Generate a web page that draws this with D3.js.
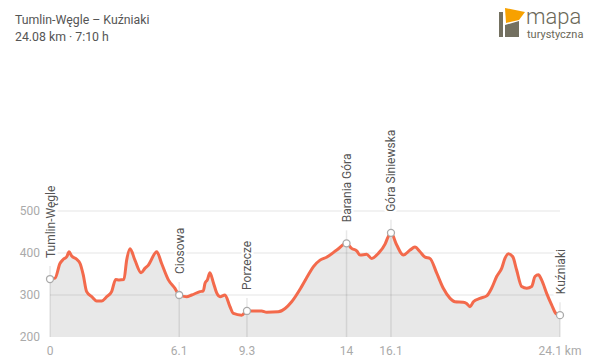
<!DOCTYPE html>
<html>
<head>
<meta charset="utf-8">
<script src="https://cdn.jsdelivr.net/npm/d3@7"></script>
<style>
  body { margin: 0; background: #fff; }
  svg { font-family: Roboto, "Noto Sans", sans-serif; }
</style>
</head>
<body>
<div id="chart"></div>
<script>
// route profile
var distKm = [0, 0.24, 0.47, 0.63, 0.79, 0.90, 1.02, 1.26, 1.42, 1.57, 1.73, 1.97, 2.20, 2.44, 2.68, 2.91,
  3.10, 3.26, 3.49, 3.62, 3.78, 4.01, 4.30, 4.49, 4.64, 5.04, 5.27, 5.59, 5.90, 6.10,
  6.45, 6.69, 7.08, 7.24, 7.32, 7.43, 7.55, 7.71, 7.87, 8.03, 8.26, 8.50, 8.66, 9.05, 9.30,
  9.99, 10.23, 10.78, 11.10, 11.41, 11.88, 12.20, 12.43, 12.75, 13.06, 13.54, 14.00,
  14.24, 14.48, 14.64, 14.95, 15.19, 15.50, 15.82, 15.97, 16.10,
  16.37, 16.68, 17.00, 17.23, 17.47, 17.71, 17.94, 18.26, 18.57, 18.89, 19.12, 19.51, 19.67, 19.83, 19.99,
  20.30, 20.62, 20.85, 21.09, 21.33, 21.48, 21.64, 21.85, 22.03, 22.27, 22.51, 22.74, 22.90, 23.06, 23.21,
  23.45, 23.69, 23.89, 24.08];
var elevM = [338, 340, 375, 385, 391, 403, 393, 385, 375, 348, 308, 296, 286, 286, 296, 308,
  337, 336, 337, 383, 410, 383, 353, 364, 371, 403, 375, 336, 316, 300,
  296, 300, 308, 310, 328, 336, 353, 330, 305, 296, 300, 272, 256, 252, 262,
  262, 259, 260, 268, 284, 320, 348, 367, 383, 390, 407, 423,
  411, 405, 395, 397, 387, 399, 421, 439, 448,
  419, 395, 407, 414, 403, 390, 387, 352, 316, 292, 284, 283, 280, 272, 284,
  292, 298, 316, 344, 364, 387, 398, 391, 360, 320, 316, 320, 344, 348, 336,
  304, 276, 256, 252];

var wpNames = ["Tumlin-Węgle", "Ciosowa", "Porzecze", "Barania Góra", "Góra Siniewska", "Kuźniaki"];
var wpKm = [0, 6.1, 9.3, 14, 16.1, 24.08];
var wpElev = [338, 300, 262, 423, 448, 252];
var xTickLabels = ["0", "6.1", "9.3", "14", "16.1", "24.1 km"];
var yTicks = [200, 300, 400, 500];

var svg = d3.select("#chart").append("svg").attr("width", 600).attr("height", 362);

var x = d3.scaleLinear().domain([0, 24.08]).range([50, 560]);
var y = d3.scaleLinear().domain([200, 500]).range([337, 211]);

var pts = distKm.map(function(d, i) { return [d, elevM[i]]; });

// header
svg.append("text").attr("x", 15).attr("y", 24).attr("font-size", 12.3).attr("fill", "#555")
  .text("Tumlin-Węgle – Kuźniaki");
svg.append("text").attr("x", 15).attr("y", 41).attr("font-size", 12.3).attr("fill", "#555")
  .text("24.08 km · 7:10 h");

// logo
var logo = svg.append("g");
logo.append("rect").attr("x", 499).attr("y", 12).attr("width", 4).attr("height", 25).attr("fill", "#737060");
logo.append("polygon").attr("points", "505,25 519,21 519,37 505,37").attr("fill", "#737060");
logo.append("polygon").attr("points", "505,8 525,12 519,20 506,23").attr("fill", "#f7a100");
logo.append("text").attr("x", 526).attr("y", 24).attr("font-size", 22).attr("font-weight", 300)
  .attr("fill", "#6b6858").text("mapa");
logo.append("text").attr("x", 527).attr("y", 38).attr("font-size", 11)
  .attr("fill", "#6b6858").text("turystyczna");

// area + line
svg.append("path").datum(pts)
  .attr("fill", "#e8e8e8")
  .attr("d", d3.area().x(function(d) { return x(d[0]); }).y0(y(200)).y1(function(d) { return y(d[1]); })
    .curve(d3.curveMonotoneX));

// grid
svg.selectAll(".grid").data(yTicks.slice(1)).enter().append("line")
  .attr("x1", 50).attr("x2", 560)
  .attr("y1", function(d) { return y(d); }).attr("y2", function(d) { return y(d); })
  .attr("stroke", "rgba(0,0,0,0.07)").attr("stroke-width", 1.5);

svg.selectAll(".ylab").data(yTicks).enter().append("text")
  .attr("x", 40).attr("y", function(d) { return y(d); }).attr("dy", "0.35em")
  .attr("text-anchor", "end").attr("font-size", 12).attr("fill", "#aaa")
  .text(function(d) { return d; });

svg.selectAll(".xlab").data(wpKm).enter().append("text")
  .attr("x", function(d) { return x(d); }).attr("y", 355)
  .attr("text-anchor", "middle").attr("font-size", 12).attr("fill", "#aaa")
  .text(function(d, i) { return xTickLabels[i]; });

// waypoint stems
svg.selectAll(".stem").data(wpKm).enter().append("line")
  .attr("x1", function(d) { return x(d); }).attr("x2", function(d) { return x(d); })
  .attr("y1", y(200)).attr("y2", function(d, i) { return y(wpElev[i]) - 13; })
  .attr("stroke", "rgba(0,0,0,0.09)").attr("stroke-width", 1.5);

svg.append("path").datum(pts)
  .attr("fill", "none").attr("stroke", "#f36a4c").attr("stroke-width", 3)
  .attr("stroke-linejoin", "round")
  .attr("d", d3.line().x(function(d) { return x(d[0]); }).y(function(d) { return y(d[1]); })
    .curve(d3.curveMonotoneX));

svg.selectAll(".wp").data(wpKm).enter().append("circle")
  .attr("cx", function(d) { return x(d); }).attr("cy", function(d, i) { return y(wpElev[i]); })
  .attr("r", 3.5).attr("fill", "#fff").attr("stroke", "#aaa").attr("stroke-width", 1.3);

svg.selectAll(".wplab").data(wpKm).enter().append("text")
  .attr("transform", function(d, i) {
    return "translate(" + (x(d) + 4.5) + "," + (y(wpElev[i]) - 21) + ") rotate(-90)";
  })
  .attr("font-size", 12).attr("fill", "#555")
  .attr("stroke", "#fff").attr("stroke-width", 5).attr("paint-order", "stroke")
  .text(function(d, i) { return wpNames[i]; });
</script>
</body>
</html>
